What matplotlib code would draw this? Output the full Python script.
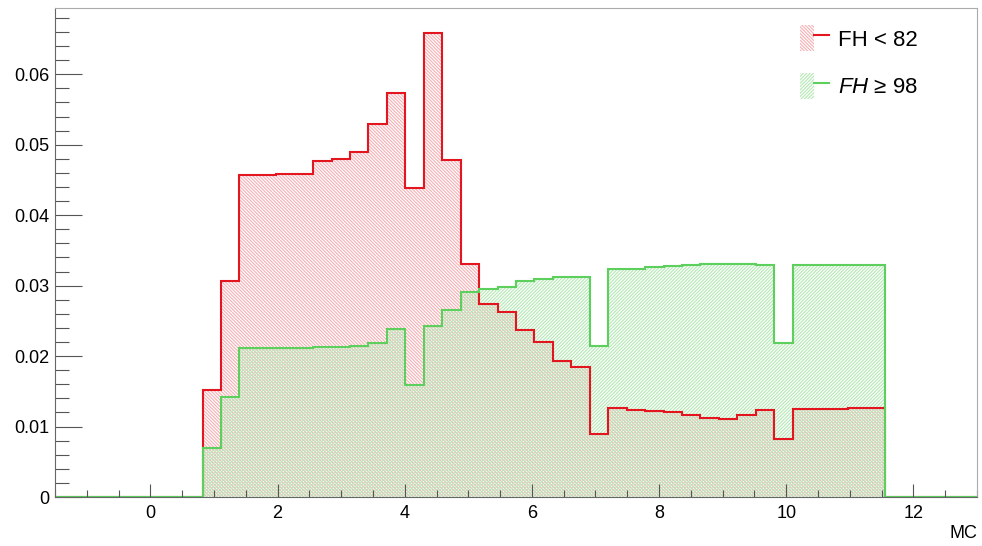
import numpy as np
import matplotlib
matplotlib.use('Agg')
import matplotlib.pyplot as plt
from matplotlib.ticker import MultipleLocator, FuncFormatter
from matplotlib.patches import Patch
from matplotlib.lines import Line2D
from matplotlib.legend_handler import HandlerTuple

plt.rcParams['font.family'] = ['Liberation Sans', 'DejaVu Sans']
plt.rcParams['mathtext.fontset'] = 'custom'
plt.rcParams['mathtext.rm'] = 'Liberation Sans'
plt.rcParams['mathtext.it'] = 'Liberation Sans:italic'
plt.rcParams['hatch.linewidth'] = 0.85

# binning of the histograms (ROOT style: 50 bins over the x range)
x_min, x_max, n_bins = -1.5, 13.0, 50
first_bin = 8   # first non-empty bin
last_pad = 5    # empty bins after the last filled one

# bin contents, bins 8..44
fh_low = [0.0152, 0.0306, 0.0457, 0.0457, 0.0458, 0.0459, 0.0477, 0.0480,
          0.0489, 0.0530, 0.0574, 0.0438, 0.0659, 0.0478, 0.0330, 0.0274,
          0.0262, 0.0237, 0.0220, 0.0193, 0.0185, 0.0089, 0.0126, 0.0123,
          0.0122, 0.0120, 0.0116, 0.0112, 0.0110, 0.0116, 0.0123, 0.0082,
          0.0125, 0.0125, 0.0125, 0.0126, 0.0126]
fh_high = [0.0070, 0.0142, 0.0212, 0.0212, 0.0212, 0.0212, 0.0213, 0.0213,
           0.0215, 0.0219, 0.0238, 0.0159, 0.0242, 0.0266, 0.0291, 0.0295,
           0.0298, 0.0306, 0.0309, 0.0312, 0.0312, 0.0214, 0.0323, 0.0324,
           0.0327, 0.0328, 0.0329, 0.0330, 0.0330, 0.0330, 0.0329, 0.0219,
           0.0329, 0.0329, 0.0329, 0.0329, 0.0329]

labels = ['FH < 82', '$FH$ ≥ 98']

red = '#e3161f'
green = '#5ccf5c'
red_hatch = '#f5b3b8'
green_hatch = '#b8e9b8'
red_pat = '\\' * 10
green_pat = '/' * 10

edges = np.linspace(x_min, x_max, n_bins + 1)
low = np.array([0.0] * first_bin + fh_low + [0.0] * last_pad)
high = np.array([0.0] * first_bin + fh_high + [0.0] * last_pad)

fig = plt.figure(figsize=(9.82, 5.46), dpi=100)
ax = fig.add_axes([55 / 982, 49 / 546, 922 / 982, 489 / 546])

# hatched fills
ax.stairs(low, edges, fill=True, facecolor='none', edgecolor=red_hatch,
          linewidth=0, hatch=red_pat)
ax.stairs(high, edges, fill=True, facecolor='none', edgecolor=green_hatch,
          linewidth=0, hatch=green_pat)
# outlines
ax.stairs(low, edges, color=red, linewidth=1.5, baseline=0)
ax.stairs(high, edges, color=green, linewidth=1.5, baseline=0)

ax.set_xlim(x_min, x_max)
ax.set_ylim(0, 0.0694)

ax.xaxis.set_major_locator(MultipleLocator(2))
ax.xaxis.set_minor_locator(MultipleLocator(0.5))
ax.yaxis.set_major_locator(MultipleLocator(0.01))
ax.yaxis.set_minor_locator(MultipleLocator(0.002))
ax.yaxis.set_major_formatter(FuncFormatter(lambda v, p: '0' if abs(v) < 1e-9 else f'{v:.2f}'))

ax.tick_params(axis='both', which='both', direction='in', colors='#555555',
               labelcolor='black', labelsize=13, width=0.8)
ax.tick_params(axis='y', which='major', length=19.5, pad=4)
ax.tick_params(axis='y', which='minor', length=10)
ax.tick_params(axis='x', which='major', length=9.5, pad=6)
ax.tick_params(axis='x', which='minor', length=5)

for s in ['left', 'bottom']:
    ax.spines[s].set_color('#666666')
    ax.spines[s].set_linewidth(0.8)
for s in ['top', 'right']:
    ax.spines[s].set_color('#aaaaaa')
    ax.spines[s].set_linewidth(0.8)

fig.text(977 / 982, 1 - 533 / 546, 'MC', ha='right', va='center', fontsize=13)

handles = [
    (Patch(facecolor='none', edgecolor=red_hatch, linewidth=0, hatch=red_pat),
     Line2D([], [], color=red, linewidth=1.5)),
    (Patch(facecolor='none', edgecolor=green_hatch, linewidth=0, hatch=green_pat),
     Line2D([], [], color=green, linewidth=1.5)),
]
fig.legend(handles, labels, handler_map={tuple: HandlerTuple(ndivide=None, pad=0)},
           loc='upper left', bbox_to_anchor=(800 / 982, 1 - 25 / 546),
           frameon=False, fontsize=16, borderpad=0, borderaxespad=0,
           handlelength=1.3, handleheight=1.45, handletextpad=0.4,
           labelspacing=0.95)

fig.savefig('out.png', dpi=100)
